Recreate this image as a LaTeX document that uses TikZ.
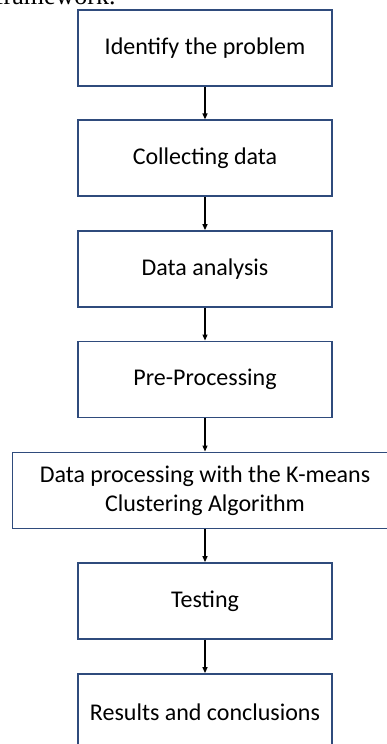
\documentclass[tikz,border=0pt]{standalone}
\usepackage{fontspec}
\setmainfont{Carlito}
\newfontfamily\captionserif{Liberation Serif}
\usetikzlibrary{arrows.meta}
\definecolor{boxline}{HTML}{2F4B7C}

\begin{document}
\begin{tikzpicture}[x=1pt,y=-1pt,font=\fontsize{24}{29}\selectfont,
  stepbox/.style={draw=boxline,line width=1.8pt,fill=white,minimum width=254pt,minimum height=76pt,inner sep=0pt,align=center},
  flow/.style={-{Triangle[length=6pt,width=5pt]},line width=1.2pt,black}]
\clip (0,0) rectangle (387,744);
\useasboundingbox (0,0) rectangle (387,744);
\node[anchor=base west,font=\captionserif\fontsize{26}{30}\selectfont] (capt) at (-8.5,4.5) {framework.};
\node[stepbox] (identify) at (205,47.7) {Identify the problem};
\node[stepbox] (collect) at (205,158.3) {Collecting data};
\node[stepbox] (analysis) at (205,269) {Data analysis};
\node[stepbox] (preproc) at (205,379.4) {Pre-Processing};
\node[stepbox,minimum width=385pt] (kmeans) at (205,490.4) {Data processing with the K-means\\Clustering Algorithm};
\node[stepbox] (testing) at (205,601) {Testing};
\node[stepbox] (results) at (205,712) {Results and conclusions};
\draw[flow] (identify) -- (collect);
\draw[flow] (collect) -- (analysis);
\draw[flow] (analysis) -- (preproc);
\draw[flow] (preproc) -- (kmeans);
\draw[flow] (kmeans) -- (testing);
\draw[flow] (testing) -- (results);
\end{tikzpicture}
\end{document}
